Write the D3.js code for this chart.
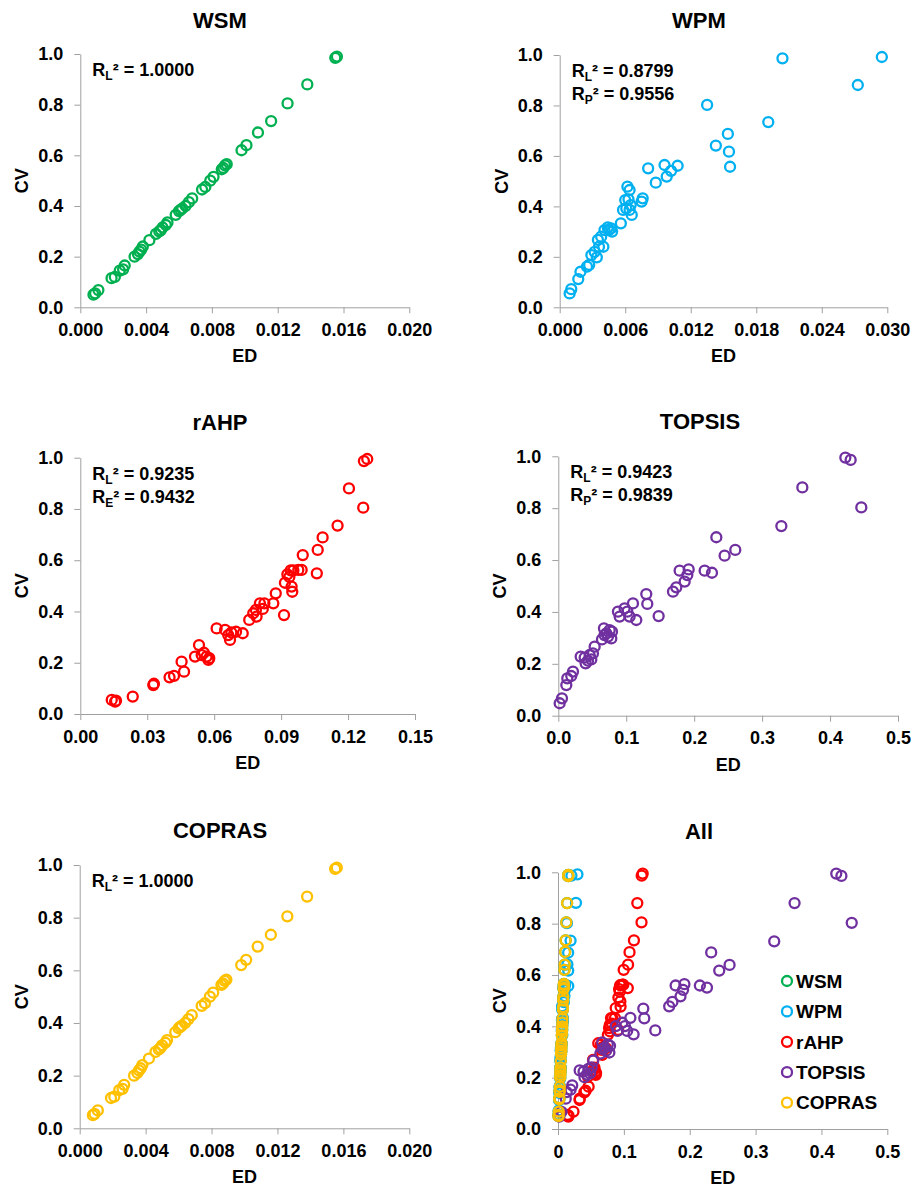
<!DOCTYPE html>
<html>
<head>
<meta charset="utf-8">
<script src="https://cdn.jsdelivr.net/npm/d3@7"></script>
<style>
  body { margin: 0; background: #fff; }
  svg text { font-family: "Liberation Sans", Arial, sans-serif; font-weight: bold; fill: #000; }
  .axis path, .axis line { stroke: #a0a0a0; stroke-width: 1; }
  .axis text { font-size: 18px; }
</style>
</head>
<body>
<svg id="chart" width="916" height="1191"></svg>
<script>
// [ED, CV] pairs
const wsm = [[0.0008,0.050],[0.0009,0.055],[0.0011,0.068],[0.0019,0.115],[0.0021,0.120],[0.0024,0.145],[0.0026,0.150],[0.0027,0.165],
  [0.0033,0.200],[0.0035,0.210],[0.0036,0.220],[0.0037,0.228],[0.0038,0.240],[0.0042,0.265],[0.0046,0.290],[0.0048,0.300],[0.0049,0.305],
  [0.0050,0.315],[0.0052,0.325],[0.0053,0.335],[0.0058,0.365],[0.0060,0.380],[0.0061,0.385],[0.0062,0.390],[0.0064,0.400],[0.0066,0.415],
  [0.0068,0.430],[0.0074,0.465],[0.0076,0.475],[0.0079,0.500],[0.0081,0.515],[0.0086,0.545],[0.0087,0.550],[0.0088,0.560],[0.0089,0.565],
  [0.0098,0.620],[0.0101,0.640],[0.0108,0.690],[0.0116,0.735],[0.0126,0.805],[0.0138,0.880],[0.0155,0.985],[0.0156,0.990]];

const wpm = [[0.00091,0.055],[0.00106,0.072],[0.0017,0.112],[0.0019,0.141],[0.0025,0.161],[0.0027,0.168],[0.0029,0.207],[0.0032,0.220],
  [0.0034,0.198],[0.0036,0.240],[0.0040,0.240],[0.0035,0.267],[0.0038,0.280],[0.0041,0.306],[0.0044,0.317],[0.0045,0.306],[0.0047,0.313],
  [0.0048,0.300],[0.0056,0.333],[0.0058,0.386],[0.0061,0.392],[0.0060,0.425],[0.0063,0.428],[0.0062,0.478],[0.0064,0.465],[0.0064,0.386],
  [0.0066,0.366],[0.0065,0.405],[0.0075,0.419],[0.0076,0.432],[0.0081,0.551],[0.0088,0.494],[0.0096,0.564],[0.0098,0.518],[0.0102,0.541],
  [0.0108,0.561],[0.0135,0.802],[0.0143,0.641],[0.0154,0.687],[0.0155,0.617],[0.0156,0.557],[0.0191,0.734],[0.0204,0.987],[0.0273,0.881],
  [0.0295,0.992]];

const rahp = [[0.0141,0.055],[0.0156,0.048],[0.0160,0.052],[0.0235,0.068],[0.0327,0.113],[0.0330,0.118],[0.0400,0.143],[0.0420,0.149],
  [0.0454,0.204],[0.0465,0.165],[0.0514,0.224],[0.0532,0.269],[0.0544,0.230],[0.0554,0.239],[0.0566,0.224],[0.0574,0.211],[0.0578,0.218],
  [0.0611,0.334],[0.0649,0.328],[0.0663,0.308],[0.0671,0.289],[0.0677,0.318],[0.0698,0.321],[0.0728,0.315],[0.0757,0.367],[0.0775,0.393],
  [0.0787,0.406],[0.0790,0.380],[0.0805,0.432],[0.0818,0.410],[0.0825,0.432],[0.0865,0.432],[0.0876,0.471],[0.0913,0.386],[0.0917,0.512],
  [0.0928,0.545],[0.0937,0.535],[0.0943,0.560],[0.0947,0.497],[0.0950,0.477],[0.0955,0.560],[0.0977,0.562],[0.0992,0.562],[0.0997,0.620],
  [0.1060,0.549],[0.1064,0.640],[0.1086,0.689],[0.1153,0.735],[0.1204,0.880],[0.1268,0.805],[0.1271,0.987],[0.1286,0.995]];

const topsis = [[0.0020,0.048],[0.0054,0.067],[0.0118,0.118],[0.0132,0.144],[0.0191,0.153],[0.0216,0.170],[0.0329,0.228],[0.0388,0.224],
  [0.0402,0.202],[0.0437,0.212],[0.0461,0.234],[0.0486,0.217],[0.0510,0.240],[0.0535,0.266],[0.0643,0.294],[0.0672,0.337],[0.0680,0.311],
  [0.0707,0.317],[0.0731,0.305],[0.0756,0.330],[0.0780,0.298],[0.0790,0.324],[0.0878,0.401],[0.0903,0.382],[0.0976,0.414],[0.1016,0.401],
  [0.1050,0.382],[0.1099,0.433],[0.1148,0.369],[0.1295,0.469],[0.1310,0.431],[0.1477,0.384],[0.1688,0.478],[0.1737,0.495],[0.1786,0.559],
  [0.1860,0.517],[0.1899,0.542],[0.1919,0.564],[0.2154,0.559],[0.2262,0.551],[0.2326,0.688],[0.2448,0.617],[0.2605,0.639],[0.3283,0.731],
  [0.3592,0.880],[0.4225,0.995],[0.4303,0.986],[0.4460,0.803]];

const copras = [[0.0008,0.050],[0.0009,0.055],[0.0011,0.068],[0.0019,0.115],[0.0021,0.120],[0.0024,0.145],[0.0026,0.150],[0.0027,0.165],
  [0.0033,0.200],[0.0035,0.210],[0.0036,0.220],[0.0037,0.228],[0.0038,0.240],[0.0042,0.265],[0.0046,0.290],[0.0048,0.300],[0.0049,0.305],
  [0.0050,0.315],[0.0052,0.325],[0.0053,0.335],[0.0058,0.365],[0.0060,0.380],[0.0061,0.385],[0.0062,0.390],[0.0064,0.400],[0.0066,0.415],
  [0.0068,0.430],[0.0074,0.465],[0.0076,0.475],[0.0079,0.500],[0.0081,0.515],[0.0086,0.545],[0.0087,0.550],[0.0088,0.560],[0.0089,0.565],
  [0.0098,0.620],[0.0101,0.640],[0.0108,0.690],[0.0116,0.735],[0.0126,0.805],[0.0138,0.880],[0.0155,0.985],[0.0156,0.990]];

const methods = ['WSM', 'WPM', 'rAHP', 'TOPSIS', 'COPRAS'];
const colors = ['#00b050', '#00b0f0', '#ff0000', '#7030a0', '#ffc000'];

// fit statistics shown in each panel: [subscript, value]
const wsmFit = [['L', '1.0000']];
const wpmFit = [['L', '0.8799'], ['P', '0.9556']];
const rahpFit = [['L', '0.9235'], ['E', '0.9432']];
const topsisFit = [['L', '0.9423'], ['P', '0.9839']];
const coprasFit = [['L', '1.0000']];

const yTicks = [0, 0.2, 0.4, 0.6, 0.8, 1.0];
const xTicksWSM = [0, 0.004, 0.008, 0.012, 0.016, 0.020];
const xTicksWPM = [0, 0.006, 0.012, 0.018, 0.024, 0.030];
const xTicksRAHP = [0, 0.03, 0.06, 0.09, 0.12, 0.15];
const xTicksTOPSIS = [0, 0.1, 0.2, 0.3, 0.4, 0.5];
const xTicksAll = [0, 0.1, 0.2, 0.3, 0.4, 0.5];

const color = d3.scaleOrdinal().domain(methods).range(colors);
const svg = d3.select('#chart');

const panels = [
  { title: 'WSM', series: [['WSM', wsm]], xTicks: xTicksWSM, fmt: d3.format('.3f'), fits: wsmFit,
    box: { x0: 80.3, x1: 409.3, y0: 54, y1: 307.3 }, titleX: 220, titleY: 28 },
  { title: 'WPM', series: [['WPM', wpm]], xTicks: xTicksWPM, fmt: d3.format('.3f'), fits: wpmFit,
    box: { x0: 559.7, x1: 887.3, y0: 55, y1: 307.3 }, titleX: 699, titleY: 28 },
  { title: 'rAHP', series: [['rAHP', rahp]], xTicks: xTicksRAHP, fmt: d3.format('.2f'), fits: rahpFit,
    box: { x0: 80.3, x1: 415, y0: 457.7, y1: 714 }, titleX: 220, titleY: 430 },
  { title: 'TOPSIS', series: [['TOPSIS', topsis]], xTicks: xTicksTOPSIS, fmt: d3.format('.1f'), fits: topsisFit,
    box: { x0: 558.3, x1: 898, y0: 456.3, y1: 715.7 }, titleX: 700, titleY: 428.5 },
  { title: 'COPRAS', series: [['COPRAS', copras]], xTicks: xTicksWSM, fmt: d3.format('.3f'), fits: coprasFit,
    box: { x0: 79.7, x1: 409.3, y0: 865, y1: 1128.3 }, titleX: 220, titleY: 838 },
  { title: 'All', series: [['WSM', wsm], ['WPM', wpm], ['rAHP', rahp], ['TOPSIS', topsis], ['COPRAS', copras]],
    xTicks: xTicksAll, fmt: d => d === 0 ? '0' : d3.format('.1f')(d), fits: [],
    box: { x0: 558, x1: 887.3, y0: 872.3, y1: 1129 }, titleX: 699, titleY: 839, legend: true }
];

function drawPanel(p) {
  const b = p.box;
  const x = d3.scaleLinear().domain([0, d3.max(p.xTicks)]).range([b.x0, b.x1]);
  const y = d3.scaleLinear().domain([0, 1]).range([b.y1, b.y0]);
  const g = svg.append('g');

  g.append('g')
    .attr('class', 'axis')
    .attr('transform', `translate(0, ${b.y1})`)
    .call(d3.axisBottom(x).tickValues(p.xTicks).tickFormat(p.fmt).tickSize(6).tickSizeOuter(0).tickPadding(10));
  g.append('g')
    .attr('class', 'axis')
    .attr('transform', `translate(${b.x0}, 0)`)
    .call(d3.axisLeft(y).tickValues(yTicks).tickFormat(d3.format('.1f')).tickSize(6).tickSizeOuter(0).tickPadding(11));

  g.append('text')
    .attr('x', p.titleX)
    .attr('y', p.titleY)
    .attr('text-anchor', 'middle')
    .attr('font-size', 22)
    .text(p.title);
  g.append('text')
    .attr('x', (b.x0 + b.x1) / 2)
    .attr('y', b.y1 + 55)
    .attr('text-anchor', 'middle')
    .attr('font-size', 18)
    .text('ED');
  g.append('text')
    .attr('transform', `translate(${b.x0 - 52}, ${(b.y0 + b.y1) / 2}) rotate(-90)`)
    .attr('text-anchor', 'middle')
    .attr('font-size', 18)
    .text('CV');

  p.series.forEach(([name, pts]) => {
    g.append('g')
      .selectAll('circle')
      .data(pts)
      .enter()
      .append('circle')
      .attr('cx', d => x(d[0]))
      .attr('cy', d => y(d[1]))
      .attr('r', 5)
      .attr('fill', 'none')
      .attr('stroke', color(name))
      .attr('stroke-width', 2.3);
  });

  p.fits.forEach((f, i) => {
    const t = g.append('text')
      .attr('x', b.x0 + 12)
      .attr('y', b.y0 + 22 + i * 23)
      .attr('font-size', 18);
    t.append('tspan').text('R');
    t.append('tspan').attr('font-size', 12).attr('dy', 4).text(f[0]);
    t.append('tspan').attr('dy', -4).text('\u00b2 = ' + f[1]);
  });

  if (p.legend) {
    const lg = g.append('g')
      .selectAll('g')
      .data(methods)
      .enter()
      .append('g')
      .attr('transform', (d, i) => `translate(787, ${981 + i * 30.4})`);
    lg.append('circle')
      .attr('r', 5)
      .attr('fill', 'none')
      .attr('stroke', d => color(d))
      .attr('stroke-width', 2.3);
    lg.append('text')
      .attr('x', 9)
      .attr('dy', '0.36em')
      .attr('font-size', 19)
      .text(d => d);
  }
}

panels.forEach(drawPanel);
</script>
</body>
</html>
